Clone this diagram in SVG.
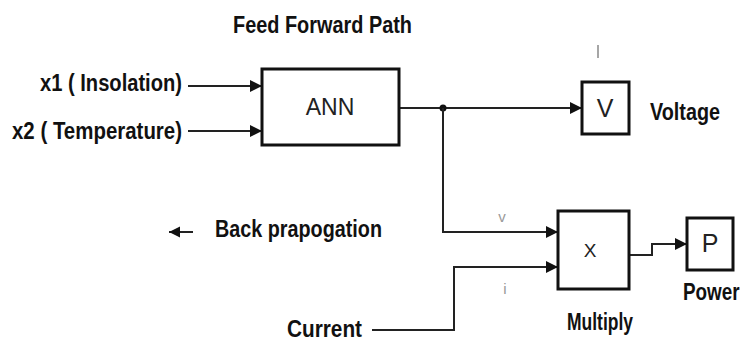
<svg xmlns="http://www.w3.org/2000/svg" width="740" height="341" viewBox="0 0 740 341">
<style>
.lbl{font-family:"Liberation Sans",Arial,sans-serif;font-weight:bold;font-size:23px;fill:#111}
.blk{font-family:"Liberation Sans",Arial,sans-serif;fill:#222}
.box{fill:#fff;stroke:#111;stroke-width:3}
.wire{fill:none;stroke:#222;stroke-width:2}
.sig{font-family:"Liberation Sans",Arial,sans-serif;font-size:15px;fill:#999}
</style>
<defs>
<marker id="ah" viewBox="0 0 10 10" refX="10" refY="5" markerWidth="13" markerHeight="12" markerUnits="userSpaceOnUse" orient="auto">
<path d="M0,0 L10,5 L0,10 z" fill="#111"/>
</marker>
<marker id="bh" viewBox="0 0 10 10" refX="10" refY="5" markerWidth="11" markerHeight="12" markerUnits="userSpaceOnUse" orient="auto">
<path d="M0,0 L10,5 L0,10 z" fill="#111"/>
</marker>
</defs>
<rect width="740" height="341" fill="#fff"/>
<text class="lbl" x="233" y="33" textLength="179" lengthAdjust="spacingAndGlyphs">Feed Forward Path</text>
<text class="lbl" x="40" y="91" textLength="142" lengthAdjust="spacingAndGlyphs">x1 ( Insolation)</text>
<text class="lbl" x="12" y="139" textLength="170" lengthAdjust="spacingAndGlyphs">x2 ( Temperature)</text>
<text class="lbl" x="650" y="120" textLength="70" lengthAdjust="spacingAndGlyphs">Voltage</text>
<text class="lbl" x="215" y="237" textLength="167" lengthAdjust="spacingAndGlyphs">Back prapogation</text>
<text class="lbl" x="287" y="337" textLength="75" lengthAdjust="spacingAndGlyphs">Current</text>
<text class="lbl" x="567" y="330" textLength="66" lengthAdjust="spacingAndGlyphs">Multiply</text>
<text class="lbl" transform="translate(683,300) scale(0.82,1)" x="0" y="0" font-size="22">Power</text>
<line x1="598" y1="45" x2="598" y2="58" stroke="#888" stroke-width="1.5"/>
<g id="connectors">
<line class="wire" x1="188" y1="86" x2="262" y2="86" marker-end="url(#ah)"/>
<line class="wire" x1="188" y1="131" x2="262" y2="131" marker-end="url(#ah)"/>
<line class="wire" x1="400" y1="108" x2="582" y2="108" marker-end="url(#ah)"/>
<circle cx="443" cy="108" r="3.5" fill="#111"/>
<polyline class="wire" points="443,108 443,232 558,232" marker-end="url(#ah)"/>
<polyline class="wire" points="372,330 454,330 454,267 558,267" marker-end="url(#ah)"/>
<polyline class="wire" points="630,255 652,255 652,244 687,244" marker-end="url(#ah)"/>
<line class="wire" x1="193" y1="232" x2="169" y2="232" stroke-width="3.5" marker-end="url(#bh)"/>
<text class="sig" x="502" y="222" text-anchor="middle">v</text>
<text class="sig" x="505" y="294" text-anchor="middle">i</text>
</g>
<g id="ann">
<rect class="box" x="262" y="69" width="137" height="76"/>
<text class="blk" x="330" y="115" font-size="23" text-anchor="middle">ANN</text>
</g>
<g id="voltage">
<rect class="box" x="582" y="82" width="47" height="52" stroke-width="2.5"/>
<text class="blk" x="605" y="117" font-size="25" text-anchor="middle">V</text>
</g>
<g id="multiply">
<rect class="box" x="558" y="211" width="71" height="78" stroke-width="2"/>
<text class="blk" x="590" y="257" font-size="19" text-anchor="middle">X</text>
</g>
<g id="power">
<rect class="box" x="687" y="218" width="46" height="52" stroke-width="2"/>
<text class="blk" x="710" y="252" font-size="25" text-anchor="middle">P</text>
</g>
</svg>
